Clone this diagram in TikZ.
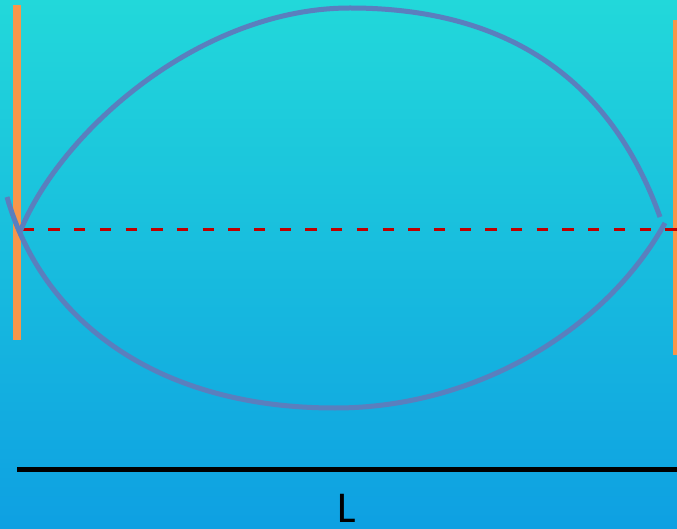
\documentclass[tikz,border=0pt]{standalone}
\usepackage{fontspec}
\setmainfont{Carlito}
\definecolor{bgtop}{HTML}{22D8DA}
\definecolor{bgbot}{HTML}{0EA0E2}
\definecolor{mirror}{HTML}{F7964A}
\definecolor{wave}{HTML}{5A7FBE}
\definecolor{axisred}{HTML}{C00000}
\begin{document}
\begin{tikzpicture}[x=1pt,y=-1pt,
  mirrorbar/.style={draw=none,fill=mirror},
  wavecurve/.style={draw=wave,line width=5pt},
  axisline/.style={draw=axisred,line width=3pt,dash pattern=on 11.3pt off 14.4pt},
  lenline/.style={draw=black,line width=5pt},
  lenlabel/.style={font=\fontsize{44}{44}\selectfont,text=black,inner sep=0pt}]
\useasboundingbox (0,0) rectangle (677,529);
\shade[top color=bgtop,bottom color=bgbot] (0,0) rectangle (677,529);
% mirrors
\fill[mirrorbar] (13,5) rectangle (20.5,340);
\fill[mirrorbar] (673,20) rectangle (680,355);
% axis
\coordinate (axL) at (22.7,230);
\coordinate (axR) at (677,230);
\draw[axisline] (axL) -- (axR);
% wave
\draw[wavecurve] (20,232) .. controls (60,132) and (200,8) .. (350,8)
  .. controls (520,8) and (615,91) .. (660,217);
\draw[wavecurve] (7,197) .. controls (42,319.5) and (155,408) .. (335,408)
  .. controls (475,408) and (605,331) .. (665,223);
% length
\coordinate (lenA) at (17,469);
\coordinate (lenB) at (677,469);
\draw[lenline] (lenA) -- (lenB);
\node[lenlabel] (L) at (347,508) {L};
\end{tikzpicture}
\end{document}
